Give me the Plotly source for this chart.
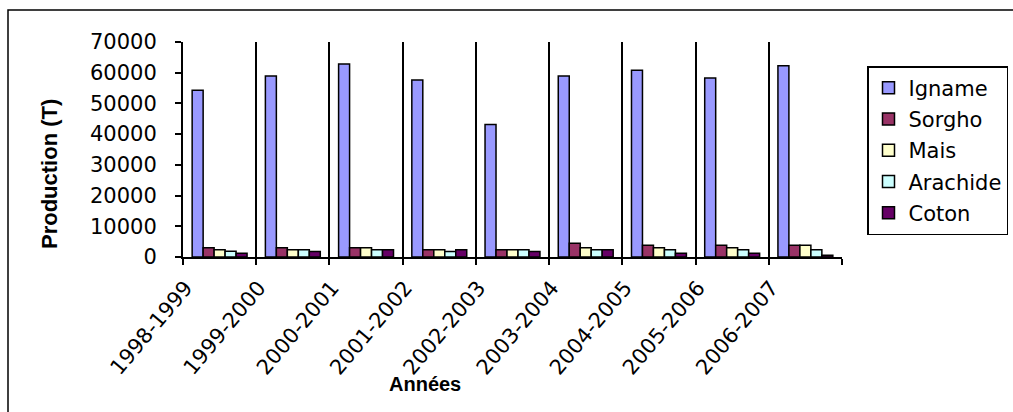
import plotly.graph_objects as go

years = ["1998-1999", "1999-2000", "2000-2001", "2001-2002", "2002-2003",
         "2003-2004", "2004-2005", "2005-2006", "2006-2007"]
igname = [54300, 58900, 62800, 57600, 43100, 58900, 60800, 58300, 62300]
sorgho = [3000, 3000, 3000, 2400, 2400, 4500, 3800, 3800, 3800]
mais = [2400, 2400, 3000, 2400, 2400, 3000, 3000, 3000, 3800]
arachide = [1850, 2400, 2400, 1800, 2400, 2400, 2400, 2400, 2400]
coton = [1200, 1800, 2400, 2400, 1800, 2400, 1200, 1200, 550]

series = [("Igname", igname, "#9999FF"), ("Sorgho", sorgho, "#993366"),
          ("Mais", mais, "#FFFFCC"), ("Arachide", arachide, "#CCFFFF"),
          ("Coton", coton, "#660066")]

W, H = 1013, 412
L, R, T, B = 183, 842, 42, 257
pw, ph = R - L, B - T

def px(x):
    return (x - L) / pw

def py(y):
    return (B - y) / ph

fig = go.Figure()
for i, (name, vals, col) in enumerate(series):
    fig.add_trace(go.Bar(x=years, y=vals, name=name, legendgroup=name,
                         marker=dict(color=col, line=dict(color="black", width=1.5))))

tickfont = dict(family="DejaVu Sans", size=21, color="black")
fig.update_layout(
    width=W, height=H,
    margin=dict(l=L, r=W - R, t=T, b=H - B, autoexpand=False),
    paper_bgcolor="white", plot_bgcolor="white",
    barmode="group", bargap=0.25, bargroupgap=0,
    showlegend=True,
    legend=dict(x=px(867), y=py(66), xanchor="left", yanchor="top",
                bordercolor="black", borderwidth=1.5, font=tickfont,
                traceorder="grouped", tracegroupgap=1, bgcolor="white"),
    xaxis=dict(type="category", tickson="boundaries", showgrid=True,
               gridcolor="black", gridwidth=2, showline=True, linecolor="black",
               linewidth=2, ticks="outside", ticklen=6, tickwidth=2, tickcolor="black",
               tickangle=-50, tickfont=tickfont, fixedrange=True,
               ticklabelshift=-34, ticklabelstandoff=8),
    yaxis=dict(range=[0, 70000], dtick=10000, tickformat="d", showgrid=False,
               showline=True, linecolor="black", linewidth=2, ticks="outside",
               ticklen=6, tickwidth=2, tickcolor="black", tickfont=tickfont,
               zeroline=False, fixedrange=True, ticklabelstandoff=14),
    shapes=[dict(type="rect", xref="paper", yref="paper",
                 x0=px(8), x1=px(1040), y0=py(440), y1=py(10),
                 line=dict(color="black", width=1.5), layer="below")],
    annotations=[
        dict(text="<b>Production (T)</b>", xref="paper", yref="paper",
             x=px(49), y=py(174), xanchor="center", yanchor="middle",
             textangle=-90, showarrow=False,
             font=dict(family="Liberation Sans", size=22, color="black")),
        dict(text="<b>Années</b>", xref="paper", yref="paper",
             x=px(425), y=py(384), xanchor="center", yanchor="middle",
             showarrow=False,
             font=dict(family="Liberation Sans", size=20, color="black")),
    ],
)

fig.write_html("out.html", config={"displayModeBar": False},
               post_script="document.body.style.margin='0';document.body.style.overflow='hidden';")
